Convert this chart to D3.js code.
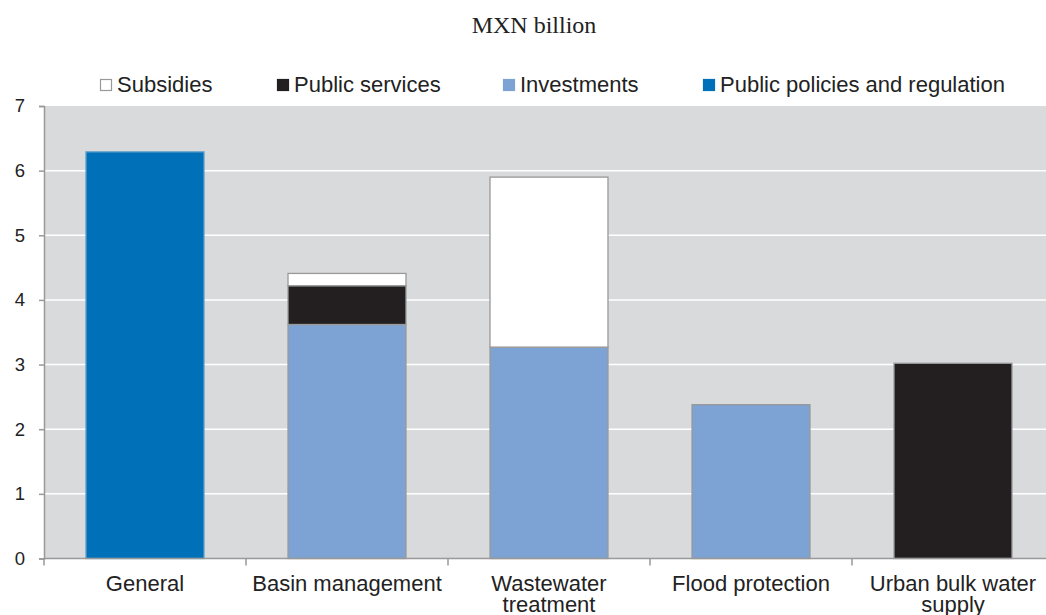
<!DOCTYPE html>
<html lang="en">
<head>
    <meta charset="UTF-8">
    <title>MXN billion</title>
    <script src="https://cdnjs.cloudflare.com/ajax/libs/d3/7.8.5/d3.min.js"></script>
    <style>
    html, body {
        margin: 0;
        background: white;
    }
    svg {
        display: block;
        font-family: "Liberation Sans", Arial, sans-serif;
    }
    </style>
</head>
<body>
    <div id="chart"></div>
    <script>
    // data
    var categories = ['General', 'Basin management', 'Wastewater treatment', 'Flood protection', 'Urban bulk water supply'];
    var categoryLines = [['General'], ['Basin management'], ['Wastewater', 'treatment'], ['Flood protection'], ['Urban bulk water', 'supply']];
    var seriesNames = ['Public policies and regulation', 'Investments', 'Public services', 'Subsidies'];
    var policies = [6.29, 0, 0, 0, 0];
    var investments = [0, 3.62, 3.27, 2.38, 0];
    var publicServices = [0, 0.60, 0, 0, 3.02];
    var subsidies = [0, 0.19, 2.63, 0, 0];
    var yTicks = [0, 1, 2, 3, 4, 5, 6, 7];

    var colors = {
        'Public policies and regulation': '#0070b8',
        'Investments': '#7da2d4',
        'Public services': '#231f20',
        'Subsidies': '#ffffff'
    };
    var strokes = {
        'Public policies and regulation': '#5b9ccc',
        'Investments': '#999999',
        'Public services': '#999999',
        'Subsidies': '#999999'
    };

    var width = 1046;
    var height = 615;
    var margin = {top: 106, bottom: 56, left: 44};
    var plotRight = 1054;

    var svg = d3.select('#chart')
        .append('svg')
            .attr('width', width)
            .attr('height', height);

    var rows = categories.map(function(c, i){
        return {
            category: c,
            'Public policies and regulation': policies[i],
            'Investments': investments[i],
            'Public services': publicServices[i],
            'Subsidies': subsidies[i]
        };
    });

    var x = d3.scaleBand()
        .domain(categories)
        .range([margin.left, plotRight])
        .paddingInner(0.416)
        .paddingOuter(0.208);

    var y = d3.scaleLinear()
        .domain([0, 7])
        .range([height - margin.bottom - 0.5, margin.top]);

    // plot background
    svg.append('rect')
        .attr('x', margin.left)
        .attr('y', y(7))
        .attr('width', plotRight - margin.left)
        .attr('height', y(0) - y(7))
        .attr('fill', '#d9dadc');

    // gridlines
    svg.selectAll('.grid')
        .data(yTicks.slice(1, -1))
        .enter()
        .append('line')
        .attr('class', 'grid')
        .attr('x1', margin.left)
        .attr('x2', plotRight)
        .attr('y1', function(d){ return y(d); })
        .attr('y2', function(d){ return y(d); })
        .attr('stroke', '#ffffff')
        .attr('stroke-width', 1.5);

    // title
    svg.append('text')
        .attr('x', 534)
        .attr('y', 33)
        .attr('text-anchor', 'middle')
        .style('font-family', '"Liberation Serif", "Times New Roman", serif')
        .style('font-size', '24px')
        .attr('fill', '#222')
        .text('MXN billion');

    // bars
    var stack = d3.stack().keys(seriesNames);
    var stacked = stack(rows);

    var layers = svg.selectAll('.layer')
        .data(stacked)
        .enter()
        .append('g')
        .attr('class', 'layer')
        .attr('fill', function(d){ return colors[d.key]; })
        .attr('stroke', function(d){ return strokes[d.key]; })
        .attr('stroke-width', 1.3);

    layers.selectAll('rect')
        .data(function(d){ return d.filter(function(s){ return s[1] - s[0] > 0; }); })
        .enter()
        .append('rect')
        .attr('x', function(d){ return x(d.data.category); })
        .attr('width', x.bandwidth())
        .attr('y', function(d){ return y(d[1]); })
        .attr('height', function(d){ return y(d[0]) - y(d[1]); });

    // y axis
    var yAxis = d3.axisLeft(y)
        .tickValues(yTicks)
        .tickFormat(d3.format('d'))
        .tickSize(5)
        .tickSizeOuter(5)
        .tickPadding(14);

    var yg = svg.append('g')
        .attr('transform', 'translate(' + margin.left + ',0)')
        .call(yAxis);
    yg.select('.domain').attr('stroke', '#999').attr('stroke-width', 1.5);
    yg.selectAll('.tick line').attr('stroke', '#999').attr('stroke-width', 1.5);
    yg.selectAll('.tick text')
        .attr('fill', '#222')
        .style('font-size', '18.5px')
        .style('font-family', '"Liberation Sans", Arial, sans-serif');

    // x axis
    svg.append('line')
        .attr('x1', margin.left)
        .attr('x2', plotRight)
        .attr('y1', y(0))
        .attr('y2', y(0))
        .attr('stroke', '#999')
        .attr('stroke-width', 1.5);

    var half = (x.step() - x.bandwidth()) / 2;
    var bounds = categories.map(function(c){ return x(c) - half; });
    svg.selectAll('.xtick')
        .data(bounds)
        .enter()
        .append('line')
        .attr('class', 'xtick')
        .attr('x1', function(d){ return d; })
        .attr('x2', function(d){ return d; })
        .attr('y1', y(0))
        .attr('y2', y(0) + 7)
        .attr('stroke', '#999')
        .attr('stroke-width', 1.5);

    var labels = svg.selectAll('.xlabel')
        .data(categories)
        .enter()
        .append('text')
        .attr('class', 'xlabel')
        .attr('text-anchor', 'middle')
        .attr('fill', '#222')
        .style('font-size', '22px');

    labels.selectAll('tspan')
        .data(function(d, i){ return categoryLines[i].map(function(l){ return {cat: d, line: l}; }); })
        .enter()
        .append('tspan')
        .attr('x', function(d){ return x(d.cat) + x.bandwidth() / 2; })
        .attr('y', function(d, j){ return 591 + j * 21; })
        .text(function(d){ return d.line; });

    // legend
    var legendItems = seriesNames.slice().reverse();
    var legendX = [100, 277, 503, 703];

    var legend = svg.selectAll('.legend')
        .data(legendItems)
        .enter()
        .append('g')
        .attr('class', 'legend')
        .attr('transform', function(d, i){ return 'translate(' + legendX[i] + ',79)'; });

    legend.append('rect')
        .attr('x', 0.5)
        .attr('y', 0.5)
        .attr('width', 11)
        .attr('height', 11)
        .attr('fill', function(d){ return colors[d]; })
        .attr('stroke', function(d){ return d === 'Subsidies' ? '#999' : colors[d]; })
        .attr('stroke-width', 1.2);

    legend.append('text')
        .attr('x', 17)
        .attr('y', 13)
        .attr('fill', '#222')
        .style('font-size', '22px')
        .text(function(d){ return d; });
    </script>
</body>
</html>
